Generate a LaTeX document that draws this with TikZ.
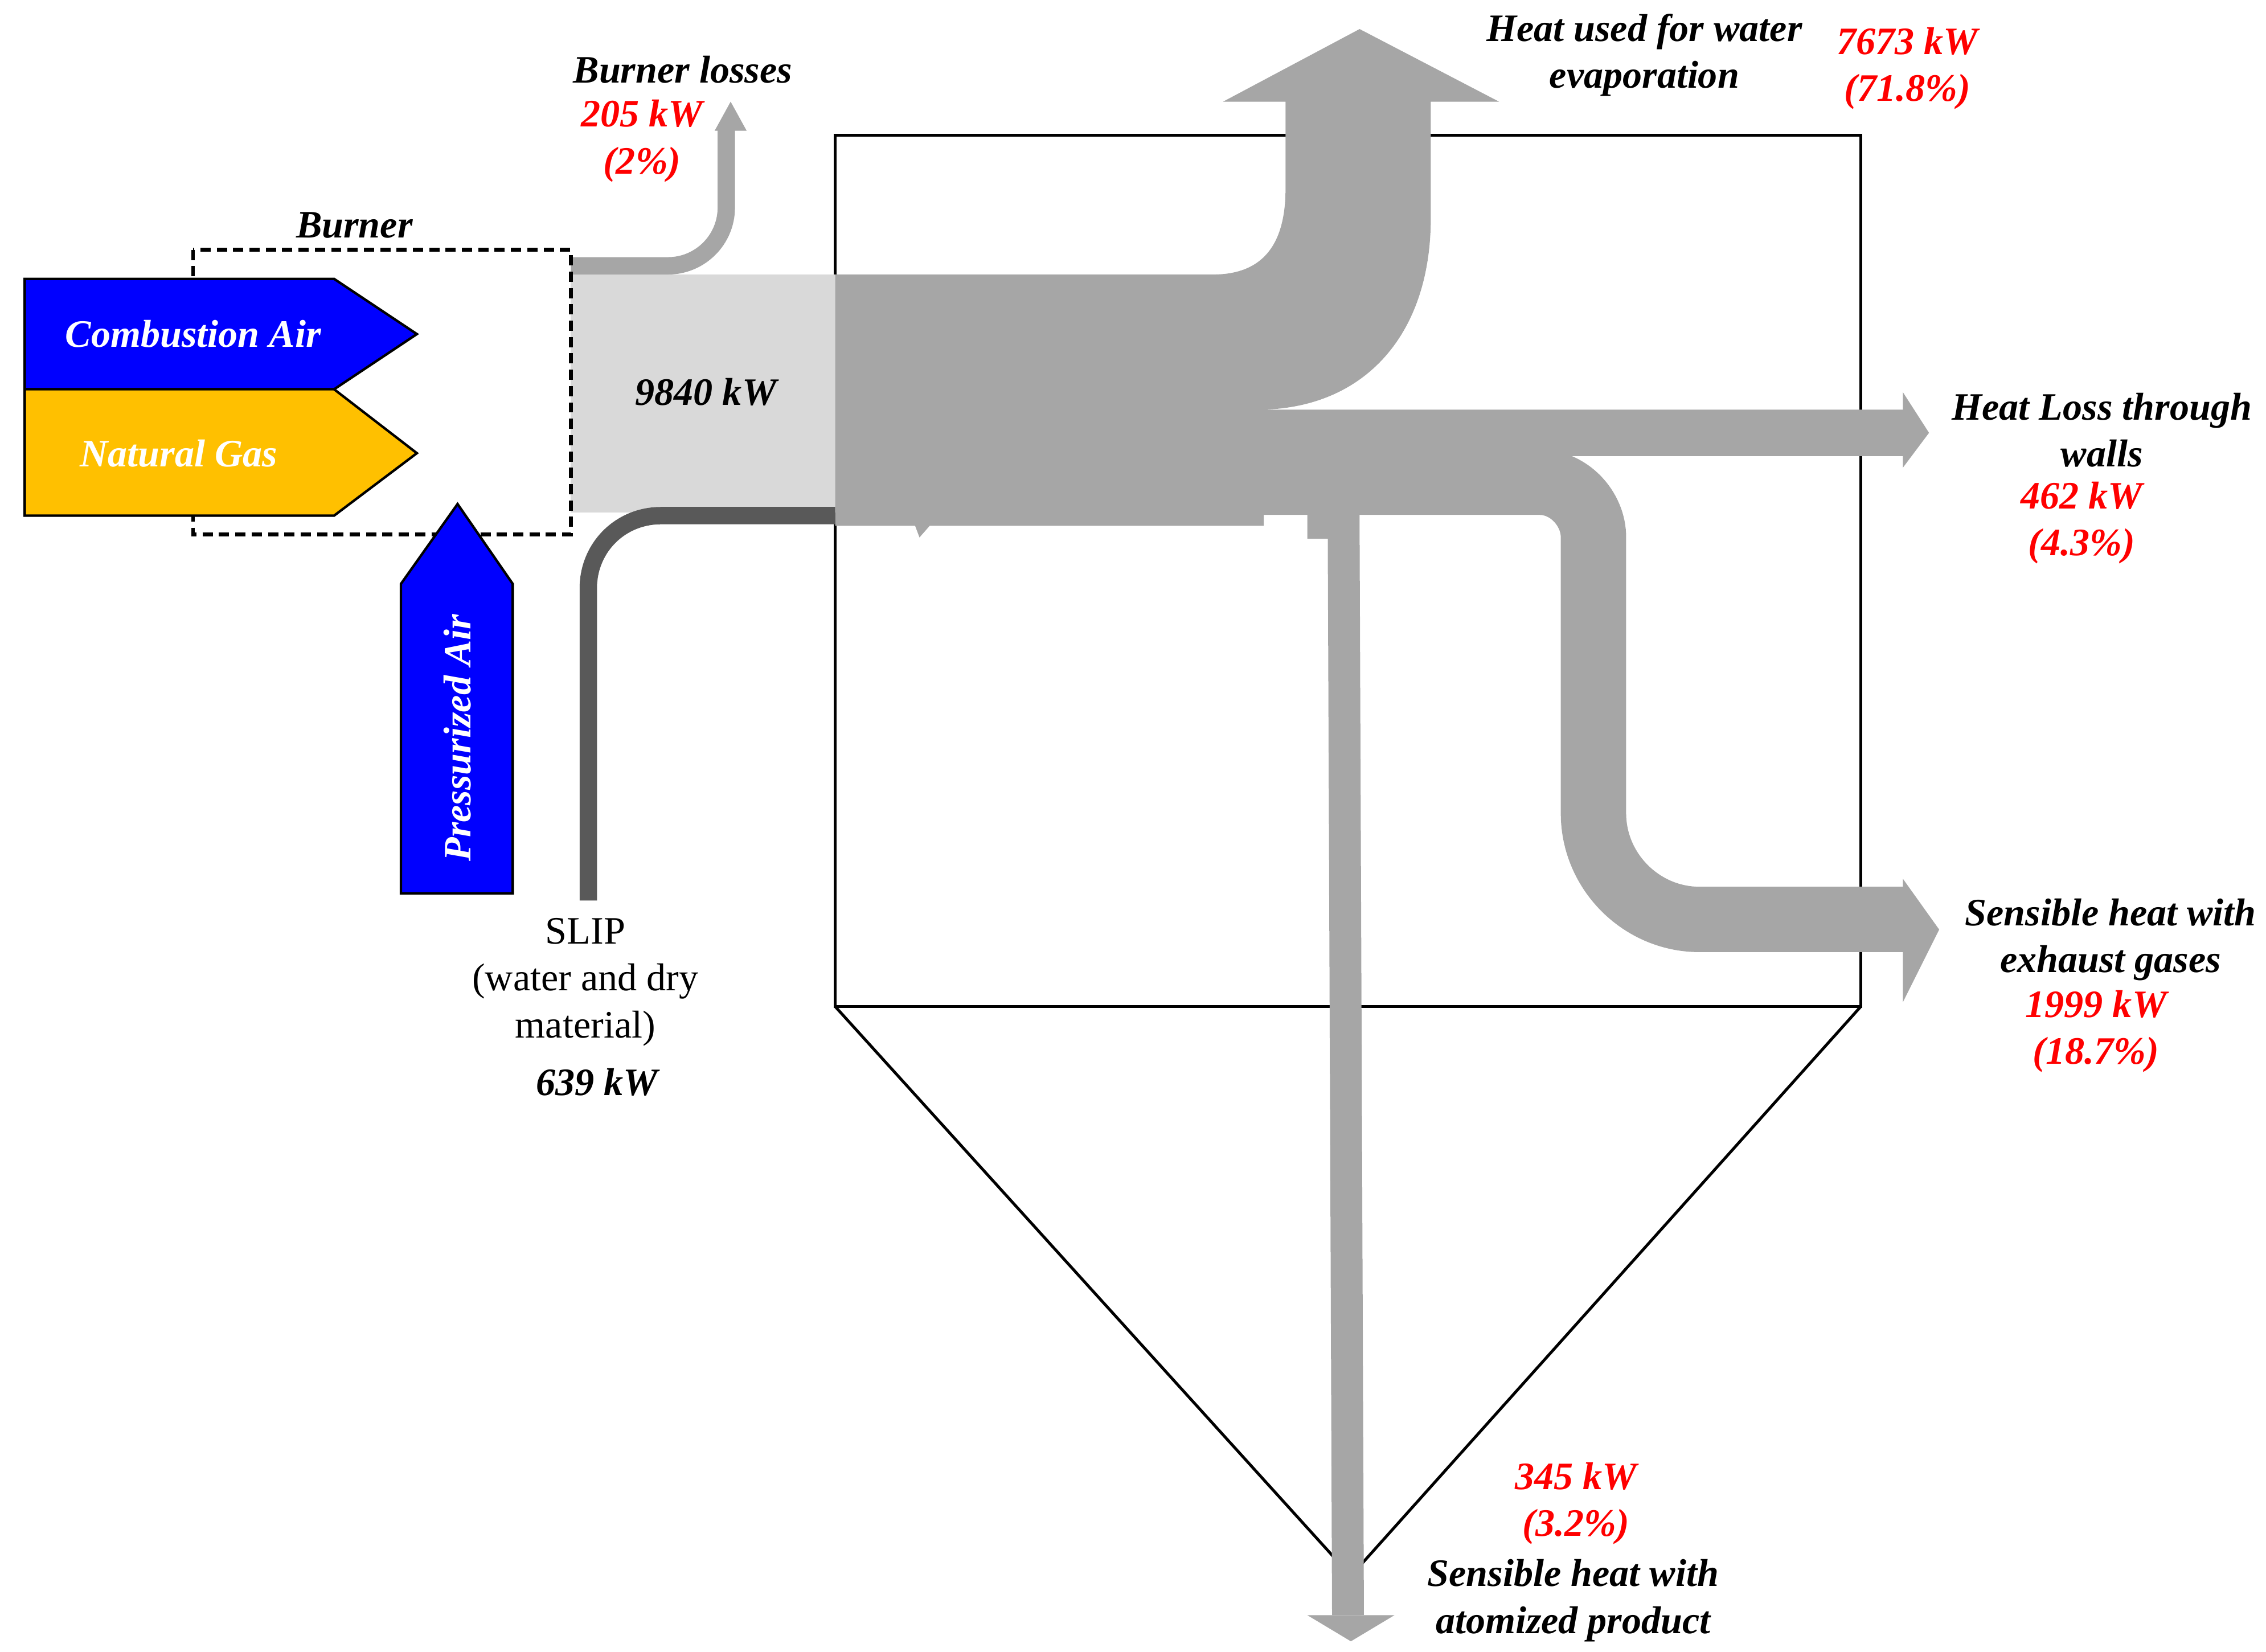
\documentclass[tikz,border=0pt]{standalone}
\usepackage{fontspec}
\setmainfont{Liberation Serif}
\begin{document}
\begin{tikzpicture}[x=0.025cm,y=-0.025cm,
 lab/.style={font=\fontsize{19}{23}\selectfont\bfseries\itshape,align=center,inner sep=0pt},
 red/.style={lab,text={rgb,255:red,255;green,0;blue,0}}]
\definecolor{fg}{RGB}{166,166,166}
\definecolor{lg}{RGB}{217,217,217}
\definecolor{dg}{RGB}{89,89,89}
\definecolor{bl}{RGB}{0,0,255}
\definecolor{og}{RGB}{255,192,0}
\useasboundingbox (0,0) rectangle (1560,1137);
% chamber
\draw[line width=1.4pt] (575,93) rectangle (1281,693);
\draw[line width=1.4pt] (575,693) -- (930,1085) -- (1281,693);
% light band
\fill[lg] (393,189) rectangle (575,353);
% burner losses
\draw[fg,line width=8.5pt] (393,183) -- (460,183) .. controls (482,183) and (500,165) .. (500,143) -- (500,88);
\fill[fg] (492,90) -- (503,70) -- (514,90) -- cycle;
% slip
\draw[dg,line width=8.5pt] (575,355) -- (455,355) .. controls (427,355) and (405,377) .. (405,405) -- (405,620);
% main flows
\fill[fg] (575,189) -- (835,189) .. controls (872,189) and (885,165) .. (885,130) -- (885,70) -- (842,70) -- (936,20) -- (1032,70) -- (985,70) -- (985,150) .. controls (985,230) and (940,280) .. (870,282) -- (1310,282) -- (1310,270) -- (1328,298) -- (1310,322) -- (1310,314) -- (870,314) -- (870,362) -- (640,362) -- (633,370) -- (630,362) -- (575,362) -- cycle;
\draw[fg,line width=32pt] (860,332) -- (1060,332) .. controls (1080,332) and (1097,350) .. (1097,370) -- (1097,560) .. controls (1097,600) and (1130,633) .. (1170,633) -- (1312,633);
\fill[fg] (1310,605) -- (1335,640) -- (1310,690) -- cycle;
\draw[fg,line width=15.6pt] (900,360) -- (925,360) -- (928,1112);
\fill[fg] (900,1112) -- (930,1130) -- (960,1112) -- cycle;
% burner box
\draw[dash pattern=on 5pt off 3pt,line width=1.8pt] (133,172) rectangle (393,368);
% inputs
\draw[fill=bl,line width=1.2pt] (17,192) -- (230,192) -- (287,230) -- (230,268) -- (17,268) -- cycle;
\draw[fill=og,line width=1.2pt] (17,268) -- (230,268) -- (287,312) -- (230,355) -- (17,355) -- cycle;
\draw[fill=bl,line width=1.2pt] (276,615) -- (276,402) -- (315,347) -- (353,402) -- (353,615) -- cycle;
\node[lab,text=white] (ca) at (133,230) {Combustion Air};
\node[lab,text=white] (ng) at (123,312) {Natural Gas};
\node[lab,text=white,rotate=90] (pa) at (315,508) {Pressurized Air};
% labels
\node[lab] (bu) at (244,155) {Burner};
\node[lab] (bl) at (470,48) {Burner losses};
\node[red] (blv) at (442,97) {205 kW\\(2\%)};
\node[lab] (tot) at (486,270) {9840 kW};
\node[lab] (ev) at (1132,38) {Heat used for water\\evaporation};
\node[red] (evv) at (1313,47) {7673 kW\\(71.8\%)};
\node[lab] (wl) at (1447,296) {Heat Loss through\\walls};
\node[red] (wlv) at (1433,360) {462 kW\\(4.3\%)};
\node[lab] (ex) at (1453,647) {Sensible heat with\\exhaust gases};
\node[red] (exv) at (1443,710) {1999 kW\\(18.7\%)};
\node[red] (prv) at (1085,1035) {345 kW\\(3.2\%)};
\node[lab] (pr) at (1083,1102) {Sensible heat with\\atomized product};
\node[align=center,inner sep=0pt,font=\fontsize{19}{23}\selectfont] (sl) at (403,676) {SLIP\\(water and dry\\material)};
\node[lab] (slv) at (411,745) {639 kW};
\end{tikzpicture}
\end{document}
